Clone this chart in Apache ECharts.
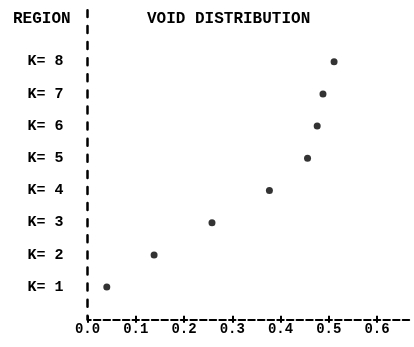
<!DOCTYPE html>
<html><head><meta charset="utf-8">
<script src="https://cdn.jsdelivr.net/npm/echarts@6/dist/echarts.min.js"></script>
<style>html,body{margin:0;padding:0;background:#fff}#c{width:414px;height:347px}</style>
</head><body><div id="c"></div>
<script>
var regionLabels = ['K= 1','K= 2','K= 3','K= 4','K= 5','K= 6','K= 7','K= 8'];
var regionValues = [1,2,3,4,5,6,7,8];
var voidFraction = [0.040, 0.138, 0.258, 0.377, 0.456, 0.476, 0.488, 0.511];
var xTicks = [0, 0.1, 0.2, 0.3, 0.4, 0.5, 0.6];
var xTickLabels = ['0.0','0.1','0.2','0.3','0.4','0.5','0.6'];

var FONT = 'Liberation Mono';
var points = regionValues.map(function(k, i){ return [voidFraction[i], k]; });
var grid = {left: 87.5, right: 3.2, top: 10.2, bottom: 27.7};
var chart = echarts.init(document.getElementById('c'), null, {renderer: 'canvas'});
chart.setOption({
  backgroundColor: '#fff',
  animation: false,
  title: [
    {text: 'VOID DISTRIBUTION', left: 142, top: 6,
     textStyle: {fontFamily: FONT, fontWeight: 'bold', fontSize: 16, color: '#000'}},
    {text: 'REGION', left: 8, top: 6,
     textStyle: {fontFamily: FONT, fontWeight: 'bold', fontSize: 16, color: '#000'}}
  ],
  grid: [grid, grid],
  xAxis: [{
    type: 'value', gridIndex: 0, min: 0, max: 0.67, interval: 0.1,
    splitLine: {show: false},
    axisLine: {lineStyle: {color: '#000', width: 2, type: [6.5, 3.15], dashOffset: 3.25}},
    axisTick: {show: true, inside: true, length: 3.5, lineStyle: {color: '#000', width: 2},
               customValues: xTicks},
    axisLabel: {customValues: xTicks, margin: 3,
                formatter: function(v){ var i = xTicks.indexOf(Math.round(v*10)/10); return i >= 0 ? xTickLabels[i] : ''; },
                fontFamily: FONT, fontWeight: 'bold', fontSize: 14, color: '#000'}
  }, {
    type: 'value', gridIndex: 1, min: 0, max: 0.67, interval: 0.1,
    splitLine: {show: false}, axisLine: {show: false}, axisLabel: {show: false},
    axisTick: {show: true, inside: false, length: 3.5, lineStyle: {color: '#000', width: 2},
               customValues: xTicks}
  }],
  yAxis: [{
    type: 'value', gridIndex: 0, min: 0, max: 9.6, interval: 1,
    splitLine: {show: false},
    axisLine: {lineStyle: {color: '#000', width: 2.5, type: [7, 9.1], dashOffset: 3.5}},
    axisTick: {show: false},
    axisLabel: {customValues: regionValues, margin: 24,
                formatter: function(v){ return regionLabels[v-1] || ''; },
                fontFamily: FONT, fontWeight: 'bold', fontSize: 15, color: '#000'}
  }, {
    type: 'value', gridIndex: 1, min: 0, max: 9.6, show: false
  }],
  series: [{
    type: 'scatter', xAxisIndex: 0, yAxisIndex: 0,
    data: points, symbol: 'circle', symbolSize: 7,
    itemStyle: {color: '#000'}
  }]
});
</script></body></html>
